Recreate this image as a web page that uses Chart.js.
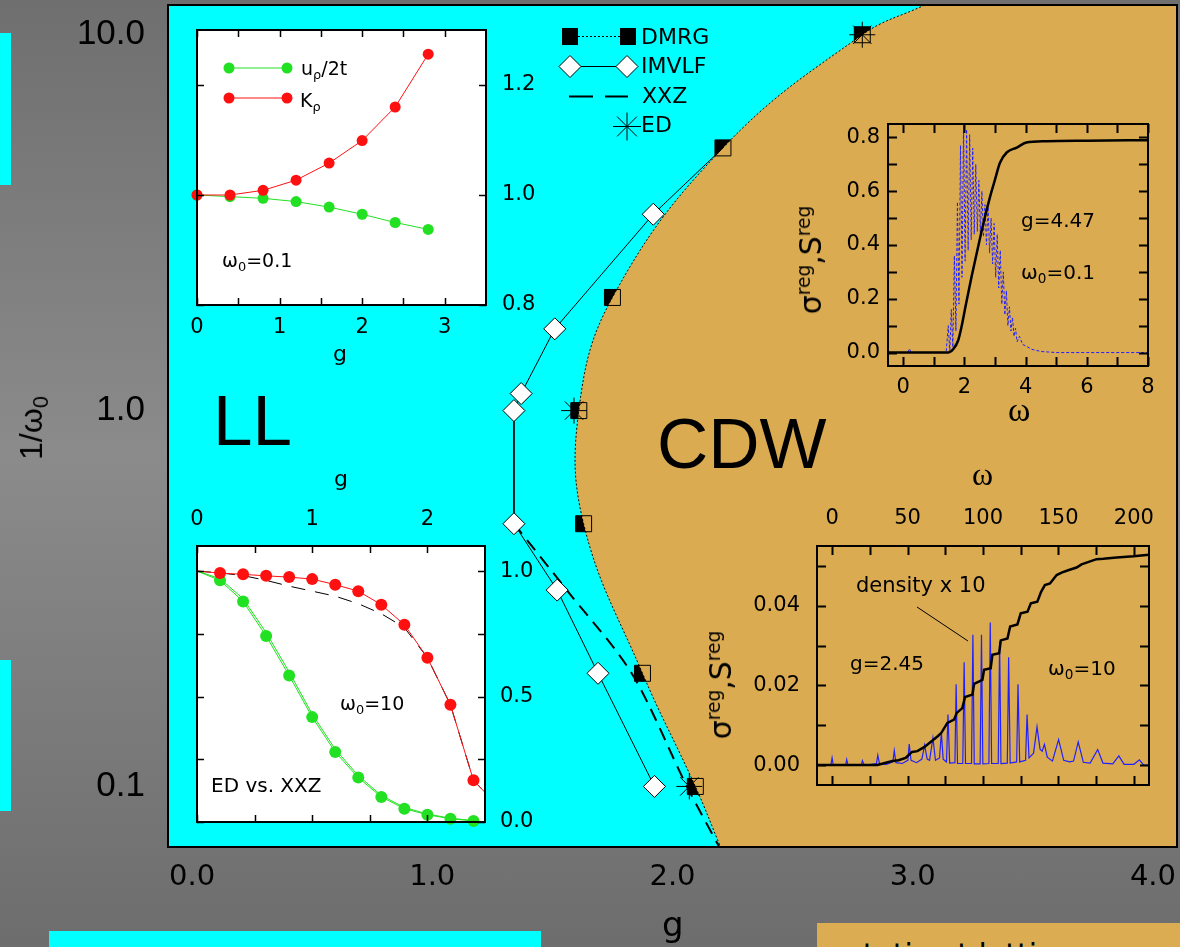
<!DOCTYPE html>
<html>
<head>
<meta charset="utf-8">
<title>Phase diagram</title>
<script src="https://cdn.jsdelivr.net/npm/chart.js@4.4.1/dist/chart.umd.min.js"></script>
<style>
  html, body { margin: 0; padding: 0; }
  body {
    width: 1180px; height: 947px; overflow: hidden; position: relative;
    background: linear-gradient(to bottom, #6f6f6f 0%, #8b8b8b 48%, #6d6d6d 100%);
    font-family: "DejaVu Sans", sans-serif;
  }
  canvas { position: absolute; }
  .blk { position: absolute; }
  .txt { position: absolute; white-space: nowrap; color: #000; }
  .txt sub { font-size: 68%; vertical-align: -0.28em; line-height: 0; }
  .txt sup { font-size: 62%; vertical-align: 0.6em; line-height: 0; }
  .rot { transform: translate(-50%, -50%) rotate(-90deg); }
</style>
</head>
<body>
<div class="blk" style="left:0;top:33px;width:11px;height:152px;background:#00ffff"></div>
<div class="blk" style="left:0;top:660px;width:11px;height:151px;background:#00ffff"></div>
<div class="blk" style="left:49px;top:931px;width:492px;height:16px;background:#00ffff"></div>
<div class="blk" style="left:817px;top:923px;width:363px;height:24px;background:#dcac52;overflow:hidden">
  <div class="txt" style="left:30px;top:17px;font:30px/1 'DejaVu Sans'">static at lattice</div>
</div>

<canvas id="mainChart" width="1180" height="947" style="left:0;top:0"></canvas>
<canvas id="insetTL" width="420" height="400" style="left:150px;top:0"></canvas>
<canvas id="insetBL" width="420" height="420" style="left:150px;top:470px"></canvas>
<canvas id="insetTR" width="400" height="330" style="left:780px;top:90px"></canvas>
<canvas id="insetBR" width="480" height="350" style="left:700px;top:470px"></canvas>

<!-- main plot texts -->
<div class="txt" style="left:213px;top:385px;font:71px/1 'Liberation Sans'">LL</div>
<div class="txt" style="left:657px;top:408px;font:71px/1 'Liberation Sans'">CDW</div>
<div class="txt" style="left:641px;top:26px;font:22px/1 'DejaVu Sans'">DMRG</div>
<div class="txt" style="left:641px;top:55px;font:22px/1 'DejaVu Sans'">IMVLF</div>
<div class="txt" style="left:642px;top:85px;font:22px/1 'DejaVu Sans'">XXZ</div>
<div class="txt" style="left:641px;top:114px;font:22px/1 'DejaVu Sans'">ED</div>
<div class="txt rot" style="left:31px;top:428px;font:32px/1 'Liberation Sans'">1/ω<sub>0</sub></div>
<div class="txt" style="left:662px;top:907px;font:34px/1 'DejaVu Sans'">g</div>

<!-- top-left inset texts -->
<div class="txt" style="left:301px;top:59px;font:19px/1 'DejaVu Sans'">u<sub>ρ</sub>/2t</div>
<div class="txt" style="left:300px;top:91px;font:19px/1 'DejaVu Sans'">K<sub>ρ</sub></div>
<div class="txt" style="left:222px;top:251px;font:19px/1 'DejaVu Sans'">ω<sub>0</sub>=0.1</div>
<div class="txt" style="left:333px;top:343px;font:22px/1 'DejaVu Sans'">g</div>

<!-- bottom-left inset texts -->
<div class="txt" style="left:334px;top:468px;font:22px/1 'DejaVu Sans'">g</div>
<div class="txt" style="left:340px;top:694px;font:19px/1 'DejaVu Sans'">ω<sub>0</sub>=10</div>
<div class="txt" style="left:211px;top:775px;font:20px/1 'DejaVu Sans'">ED vs. XXZ</div>

<!-- top-right inset texts -->
<div class="txt" style="left:1021px;top:210px;font:20px/1 'DejaVu Sans'">g=4.47</div>
<div class="txt" style="left:1021px;top:262px;font:20px/1 'DejaVu Sans'">ω<sub>0</sub>=0.1</div>
<div class="txt" style="left:1008px;top:393px;font:34px/1 'Liberation Serif'">ω</div>
<div class="txt rot" style="left:811px;top:260px;font:30px/1 'DejaVu Sans'">σ<sup>reg</sup>,S<sup>reg</sup></div>

<!-- bottom-right inset texts -->
<div class="txt" style="left:972px;top:458px;font:32px/1 'Liberation Serif'">ω</div>
<div class="txt" style="left:856px;top:575px;font:21px/1 'DejaVu Sans'">density x 10</div>
<div class="txt" style="left:850px;top:653px;font:20px/1 'DejaVu Sans'">g=2.45</div>
<div class="txt" style="left:1048px;top:658px;font:20px/1 'DejaVu Sans'">ω<sub>0</sub>=10</div>
<div class="txt rot" style="left:721px;top:685px;font:30px/1 'DejaVu Sans'">σ<sup>reg</sup>,S<sup>reg</sup></div>

<script>
(function () {
  "use strict";

  // Colors
  const cyan  = '#00ffff';
  const tan   = '#dbab52';
  const red   = '#ff1010';
  const green = '#22e022';
  const blue  = '#2020ff';

  // ---- main diagram: g vs 1/omega0 ----
  const xTicks = [0, 1, 2, 3, 4];
  const xTickLabels = ['0.0', '1.0', '2.0', '3.0', '4.0'];
  const yTicks = [0.1, 1, 10];
  const yTickLabels = ['0.1', '1.0', '10.0'];

  // DMRG phase boundary, first and last entry continue the line to the frame
  const dmrgG = [3.05, 2.79, 2.21, 1.75, 1.61, 1.63, 1.875, 2.095, 2.2];
  const dmrgW = [12, 10, 5, 2, 1, 0.5, 0.2, 0.1, 0.069];
  const imvlfG = [2.21, 1.92, 1.51, 1.37, 1.34, 1.34, 1.52, 1.69, 1.925];
  const imvlfW = [5, 3.33, 1.65, 1.11, 1.0, 0.5, 0.333, 0.2, 0.1];
  const xxzG = [1.34, 1.56, 1.83, 2.06, 2.2];
  const xxzW = [0.5, 0.333, 0.2, 0.1, 0.068];
  const edG = [2.79, 1.59, 2.07];
  const edW = [10, 1, 0.1];

  // ---- top-left inset: u_rho/2t and K_rho at omega0 = 0.1 ----
  const tlG = [0, 0.4, 0.8, 1.2, 1.6, 2.0, 2.4, 2.8];
  const tlU = [1.0, 0.997, 0.994, 0.988, 0.978, 0.965, 0.950, 0.9375];
  const tlK = [1.0, 1.0, 1.0085, 1.027, 1.058, 1.099, 1.16, 1.256];
  const tlXTicks = [0, 0.5, 1, 1.5, 2, 2.5, 3];
  const tlXLabels = ['0', '', '1', '', '2', '', '3'];
  const tlYTicks = [0.8, 1.0, 1.2];
  const tlYLabels = ['0.8', '1.0', '1.2'];

  // ---- bottom-left inset: ED vs. XXZ at omega0 = 10 ----
  const blG = [0, 0.2, 0.4, 0.6, 0.8, 1.0, 1.2, 1.4, 1.6, 1.8, 2.0, 2.2, 2.4, 2.6];
  const blRedED = [1.0, 0.992, 0.987, 0.981, 0.976, 0.968, 0.946, 0.920, 0.866, 0.786, 0.655, 0.467, 0.166, 0.07];
  const blRedXXZ = [1.0, 0.993, 0.982, 0.963, 0.94, 0.92, 0.9, 0.87, 0.83, 0.775, 0.655, 0.467, 0.166, 0.07];
  const blGreenED = [1.0, 0.963, 0.879, 0.741, 0.584, 0.418, 0.279, 0.177, 0.100, 0.053, 0.029, 0.013, 0.004];
  const blGreenXXZ = [1.0, 0.97, 0.89, 0.755, 0.598, 0.43, 0.29, 0.185, 0.106, 0.058, 0.032, 0.015, 0.006];
  const blXTicks = [0, 0.5, 1, 1.5, 2];
  const blXLabels = ['0', '', '1', '', '2'];
  const blYTicks = [0, 0.25, 0.5, 0.75, 1.0];
  const blYLabels = ['0.0', '', '0.5', '', '1.0'];

  // ---- top-right inset: g = 4.47, omega0 = 0.1 ----
  const trBlueW = [-0.5, 0.15, 0.2, 0.25, 1.40, 1.47, 1.52, 1.57, 1.62, 1.67, 1.72, 1.77, 1.82, 1.87, 1.92, 1.97,
    2.02, 2.07, 2.12, 2.17, 2.22, 2.27, 2.32, 2.37, 2.42, 2.47, 2.52, 2.57, 2.62, 2.67, 2.72, 2.77, 2.82, 2.87,
    2.92, 2.97, 3.02, 3.07, 3.12, 3.17, 3.22, 3.27, 3.32, 3.37, 3.42, 3.47, 3.52, 3.57, 3.62, 3.67, 3.72,
    3.80, 3.90, 4.00, 4.20, 4.50, 5.00, 6.00, 8.00];
  const trBlueS = [0, 0, 0.015, 0, 0, 0.10, 0.0, 0.16, 0.02, 0.36, 0.08, 0.56, 0.18, 0.77, 0.28, 0.85,
    0.34, 0.83, 0.38, 0.81, 0.42, 0.76, 0.44, 0.70, 0.45, 0.64, 0.44, 0.60, 0.43, 0.55, 0.40, 0.55, 0.37, 0.50,
    0.33, 0.48, 0.28, 0.44, 0.24, 0.38, 0.18, 0.30, 0.14, 0.23, 0.10, 0.17, 0.08, 0.13, 0.06, 0.09, 0.04,
    0.06, 0.03, 0.025, 0.012, 0.004, 0, 0, 0];
  const trSumW = [-0.5, 1.46, 1.63, 1.79, 1.90, 2.04, 2.23, 2.40, 2.62, 2.84, 3.00, 3.16, 3.38, 3.71, 4.02, 4.68, 6.0, 8.0];
  const trSumS = [0, 0, 0.0125, 0.044, 0.094, 0.175, 0.281, 0.369, 0.481, 0.581, 0.644, 0.706, 0.744, 0.7625, 0.781, 0.786, 0.788, 0.79];
  const trXTicks = [0, 1, 2, 3, 4, 5, 6, 7, 8];
  const trXLabels = ['0', '', '2', '', '4', '', '6', '', '8'];
  const trYTicks = [0, 0.1, 0.2, 0.3, 0.4, 0.5, 0.6, 0.7, 0.8];
  const trYLabels = ['0.0', '', '0.2', '', '0.4', '', '0.6', '', '0.8'];

  // ---- bottom-right inset: g = 2.45, omega0 = 10 ----
  const brBlueW = [-10, -0.8, 0, 0.8, 9, 9.7, 10.5, 19.3, 20.1, 21, 25, 29.4, 30.3, 31.4, 36, 40.3, 41.2, 42.3,
    46.5, 50.2, 51.1, 52.3, 56, 59.5, 61.3, 63, 64.6, 66.8, 68.5, 71.2, 72.4, 73.6, 75.8, 76.8, 77.9,
    81.4, 82.2, 83.1, 86.6, 87.5, 88.4, 92.4, 93.3, 94.2, 98.1, 99.0, 99.9, 103.9, 104.8, 105.7,
    110.1, 111.0, 111.9, 116.1, 117.0, 118.0, 122.3, 123.2, 124.3, 128.2, 129.2, 130.5, 133.5, 135.8, 137.8,
    139.2, 140.7, 142.6, 146, 150.1, 153.5, 157.5, 160, 163.1, 166.5, 171, 176, 179.5, 186, 190, 193.5,
    200, 203.6, 206.5, 210];
  const brBlueS = [0, 0, 0.0018, 0, 0, 0.0014, 0, 0, 0.0011, 0.0002, 0.0001, 0.0004, 0.0025, 0.0003, 0.0002,
    0.0008, 0.0036, 0.0006, 0.0004, 0.0012, 0.0053, 0.0012, 0.0006, 0.0015, 0.005, 0.0015, 0.0012, 0.0068,
    0.0012, 0.0018, 0.0082, 0.0015, 0.0008, 0.0127, 0.0005, 0.0006, 0.0203, 0.0004, 0.0004, 0.0258, 0.0004,
    0.0004, 0.0327, 0.0003, 0.0003, 0.0327, 0.0003, 0.0004, 0.0358, 0.0004, 0.0004, 0.031, 0.0004, 0.0005,
    0.0271, 0.0005, 0.0008, 0.0203, 0.0008, 0.0012, 0.0127, 0.0018, 0.003, 0.0096, 0.004, 0.0035, 0.0052,
    0.002, 0.001, 0.0064, 0.0012, 0.0008, 0.001, 0.0058, 0.0007, 0.0005, 0.0039, 0.0005, 0.0003, 0.0023,
    0.0002, 0.0002, 0.0013, 0, 0];
  const brSumW = [-10, 30, 40, 44, 48.7, 53, 56.5, 61, 65.3, 70.2, 72.4, 76.4, 80.8, 82.6, 86.3, 88.1, 93, 94.1,
    99.6, 100.7, 105.1, 106.2, 110.7, 111.8, 116.2, 118, 122.8, 125, 129.5, 131.7, 136, 138.5, 141, 144.4,
    148.8, 152.1, 156.4, 162, 165.3, 175.3, 179.7, 188.6, 199.7, 210];
  const brSumS = [0, 0, 0.001, 0.0012, 0.0018, 0.0033, 0.0035, 0.0045, 0.0058, 0.0073, 0.0081, 0.0106, 0.0114,
    0.0131, 0.0143, 0.0171, 0.0177, 0.0204, 0.0214, 0.0239, 0.0243, 0.0277, 0.0281, 0.0313, 0.0318, 0.0348,
    0.0353, 0.0381, 0.0385, 0.0406, 0.041, 0.0435, 0.0452, 0.0456, 0.0477, 0.0483, 0.0489, 0.0496, 0.0504,
    0.0517, 0.0518, 0.0521, 0.0524, 0.0528];
  const brXTicks = [0, 25, 50, 75, 100, 125, 150, 175, 200];
  const brXLabels = ['0', '', '50', '', '100', '', '150', '', '200'];
  const brYTicks = [0, 0.01, 0.02, 0.03, 0.04, 0.05];
  const brYLabels = ['0.00', '', '0.02', '', '0.04', ''];

  // ---- helpers ----
  const pts = (xs, ys) => ys.map((y, i) => ({x: xs[i], y: y}));
  const hideEnds = (r) => (c) => (c.dataIndex === 0 || c.dataIndex === c.dataset.data.length - 1) ? 0 : r;
  const hideFirst = (r) => (c) => c.dataIndex === 0 ? 0 : r;

  // scale with fixed box size and hand-picked ticks
  function axis(type, position, min, max, ticks, labels, font, pad, size) {
    return {
      type: type, position: position, min: min, max: max,
      grid: {display: false, drawTicks: false},
      border: {display: false},
      afterFit: function (s) {
        if (s.isHorizontal()) s.height = size; else s.width = size;
        s.paddingLeft = s.paddingRight = s.paddingTop = s.paddingBottom = 0;
      },
      afterBuildTicks: function (s) { s.ticks = ticks.map(v => ({value: v})); },
      ticks: {
        autoSkip: false, maxRotation: 0, minRotation: 0, padding: pad, color: '#000', font: font,
        callback: function (v, i) { return labels[i]; }
      }
    };
  }

  Chart.defaults.font.family = "'DejaVu Sans', sans-serif";
  Chart.defaults.color = '#000';

  // ---- main chart plugin: background, CDW region, frame, legend ----
  const mainDecor = {
    id: 'mainDecor',
    beforeDatasetsDraw(chart) {
      const {ctx, chartArea: a} = chart;
      ctx.save();
      ctx.fillStyle = cyan;
      ctx.fillRect(a.left, a.top, a.width, a.height);
      ctx.restore();
    },
    afterDatasetDraw(chart, args) {
      if (args.index !== 0) return;
      // CDW region: right of the DMRG boundary, painted over the solid squares
      const {ctx, chartArea: a} = chart;
      const meta = chart.getDatasetMeta(1);
      const line = meta.dataset;
      ctx.save();
      ctx.beginPath();
      ctx.rect(a.left, a.top, a.width, a.height);
      ctx.clip();
      ctx.beginPath();
      if (line && line.path && line.updateControlPoints) {
        line.updateControlPoints(a, 'x');
        line.path(ctx);
      } else {
        meta.data.forEach((p, i) => i ? ctx.lineTo(p.x, p.y) : ctx.moveTo(p.x, p.y));
      }
      ctx.lineTo(a.right + 5, a.bottom + 5);
      ctx.lineTo(a.right + 5, a.top - 5);
      ctx.closePath();
      ctx.fillStyle = tan;
      ctx.fill();
      ctx.restore();
    },
    afterDraw(chart) {
      const {ctx, chartArea: a} = chart;
      ctx.save();
      ctx.strokeStyle = '#000';
      ctx.lineWidth = 2;
      ctx.strokeRect(a.left, a.top, a.width, a.height);

      // legend symbols
      ctx.fillStyle = '#000';
      ctx.lineWidth = 1;
      ctx.setLineDash([2, 2]);
      ctx.beginPath(); ctx.moveTo(578, 36.5); ctx.lineTo(620, 36.5); ctx.stroke();
      ctx.setLineDash([]);
      ctx.fillRect(562, 28, 16, 17);
      ctx.fillRect(620, 28, 16, 17);

      ctx.beginPath(); ctx.moveTo(570, 66.5); ctx.lineTo(627, 66.5); ctx.stroke();
      [570, 627].forEach(function (x) {
        ctx.beginPath();
        ctx.moveTo(x - 11, 66.5); ctx.lineTo(x, 55.5); ctx.lineTo(x + 11, 66.5); ctx.lineTo(x, 77.5);
        ctx.closePath();
        ctx.fillStyle = '#fff'; ctx.fill(); ctx.stroke();
      });

      ctx.lineWidth = 2;
      ctx.beginPath(); ctx.moveTo(569, 96.5); ctx.lineTo(593, 96.5); ctx.moveTo(605, 96.5); ctx.lineTo(628, 96.5); ctx.stroke();

      ctx.lineWidth = 1;
      ctx.beginPath();
      const cx = 627, cy = 126.5, r = 14, d = r * Math.SQRT1_2;
      ctx.moveTo(cx - r, cy); ctx.lineTo(cx + r, cy);
      ctx.moveTo(cx, cy - r); ctx.lineTo(cx, cy + r);
      ctx.moveTo(cx - d, cy - d); ctx.lineTo(cx + d, cy + d);
      ctx.moveTo(cx - d, cy + d); ctx.lineTo(cx + d, cy - d);
      ctx.stroke();
      ctx.restore();
    }
  };

  new Chart(document.getElementById('mainChart'), {
    type: 'scatter',
    data: {
      datasets: [
        { // 0: DMRG solid squares, partly covered by the CDW region
          data: pts(dmrgG, dmrgW), showLine: false, pointStyle: 'rect', pointRadius: hideEnds(11.3),
          pointBackgroundColor: '#000', pointBorderColor: '#000', pointBorderWidth: 0, order: 10
        },
        { // 1: DMRG dotted boundary with open squares
          data: pts(dmrgG, dmrgW), showLine: true, borderColor: '#000', borderWidth: 1, borderDash: [2, 2],
          tension: 0.4, pointStyle: 'rect', pointRadius: hideEnds(11.3),
          pointBackgroundColor: 'rgba(0,0,0,0)', pointBorderColor: '#000', pointBorderWidth: 1, order: 4
        },
        { // 2: XXZ
          data: pts(xxzG, xxzW), showLine: true, borderColor: '#000', borderWidth: 2, borderDash: [13, 8],
          tension: 0.3, pointRadius: 0, order: 6
        },
        { // 3: IMVLF
          data: pts(imvlfG, imvlfW), showLine: true, borderColor: '#000', borderWidth: 1,
          pointStyle: 'rectRot', pointRadius: hideFirst(11), pointBackgroundColor: '#fff',
          pointBorderColor: '#000', pointBorderWidth: 1, order: 5
        },
        { // 4: ED
          data: pts(edG, edW), showLine: false, pointStyle: 'star', pointRadius: 13,
          pointBorderColor: '#000', pointBorderWidth: 1, order: 1
        }
      ]
    },
    options: {
      responsive: false,
      animation: false,
      events: [],
      layout: {autoPadding: false, padding: {left: 0, top: 5, right: 3, bottom: 0}},
      plugins: {legend: {display: false}, tooltip: {enabled: false}},
      scales: {
        x: axis('linear', 'bottom', -0.1, 4.1, xTicks, xTickLabels, {family: "'DejaVu Sans'", size: 29}, 13, 100),
        y: axis('logarithmic', 'left', 0.069, 12, yTicks, yTickLabels, {family: "'Liberation Sans'", size: 35}, 23, 168)
      }
    },
    plugins: [mainDecor]
  });

  // ---- insets ----
  const insetFrame = {
    id: 'insetFrame',
    beforeDatasetsDraw(chart, args, o) {
      if (!o.bg) return;
      const {ctx, chartArea: a} = chart;
      ctx.save();
      ctx.fillStyle = o.bg;
      ctx.fillRect(a.left, a.top, a.width, a.height);
      ctx.restore();
    },
    afterDatasetsDraw(chart, args, o) {
      const {ctx, chartArea: a, scales} = chart;
      const len = o.tick;
      ctx.save();
      ctx.strokeStyle = '#000';
      ctx.lineWidth = o.lw;
      ctx.beginPath();
      scales.x.ticks.forEach(function (t) {
        const p = Math.round(scales.x.getPixelForValue(t.value)) + 0.5;
        ctx.moveTo(p, a.bottom); ctx.lineTo(p, a.bottom - len);
        ctx.moveTo(p, a.top); ctx.lineTo(p, a.top + len);
      });
      scales.y.ticks.forEach(function (t) {
        const p = Math.round(scales.y.getPixelForValue(t.value)) + 0.5;
        ctx.moveTo(a.left, p); ctx.lineTo(a.left + len, p);
        ctx.moveTo(a.right, p); ctx.lineTo(a.right - len, p);
      });
      ctx.stroke();
      ctx.lineWidth = 2;
      ctx.strokeRect(a.left, a.top, a.width, a.height);
      ctx.restore();
    }
  };

  // area = plot box in page pixels; sizes = boxes of the x and y scales
  function insetChart(id, area, xAx, yAx, sizes, datasets, frame, extra) {
    const cv = document.getElementById(id);
    const ox = cv.offsetLeft, oy = cv.offsetTop;
    const pad = {left: area[0] - ox, top: area[1] - oy, right: ox + cv.width - area[2], bottom: oy + cv.height - area[3]};
    pad[xAx.position] -= sizes[0];
    pad[yAx.position] -= sizes[1];
    return new Chart(cv, {
      type: 'scatter',
      data: {datasets: datasets},
      options: {
        responsive: false,
        animation: false,
        events: [],
        layout: {autoPadding: false, padding: pad},
        plugins: {legend: {display: false}, tooltip: {enabled: false}, insetFrame: frame},
        scales: {x: xAx, y: yAx}
      },
      plugins: [insetFrame].concat(extra || [])
    });
  }

  const tickFont = {family: "'DejaVu Sans'", size: 21};

  // top-left inset legend (page coords shifted to the canvas)
  const tlLegend = {
    id: 'tlLegend',
    afterDraw(chart) {
      const ctx = chart.ctx;
      ctx.save();
      [[green, 68], [red, 98]].forEach(function (it) {
        ctx.strokeStyle = it[0]; ctx.fillStyle = it[0]; ctx.lineWidth = 1;
        ctx.beginPath(); ctx.moveTo(79, it[1]); ctx.lineTo(137, it[1]); ctx.stroke();
        [79, 137].forEach(function (x) { ctx.beginPath(); ctx.arc(x, it[1], 5.5, 0, Math.PI * 2); ctx.fill(); });
      });
      ctx.restore();
    }
  };

  insetChart('insetTL', [197, 30, 486, 305],
    axis('linear', 'bottom', 0, 3.5, tlXTicks, tlXLabels, tickFont, 10, 45),
    axis('linear', 'right', 0.8, 1.3, tlYTicks, tlYLabels, tickFont, 16, 60),
    [45, 60],
    [
      {data: pts(tlG, tlU), showLine: true, borderColor: green, borderWidth: 1, pointRadius: 5.5,
        pointBackgroundColor: green, pointBorderWidth: 0, clip: false, order: 2},
      {data: pts(tlG, tlK), showLine: true, borderColor: red, borderWidth: 1, pointRadius: 5.5,
        pointBackgroundColor: red, pointBorderWidth: 0, clip: false, order: 1}
    ],
    {bg: '#fff', tick: 7, lw: 1.5}, [tlLegend]);

  const clipRight = {left: false, top: false, right: 0, bottom: false};
  insetChart('insetBL', [197, 546, 485, 822],
    axis('linear', 'top', 0, 2.5, blXTicks, blXLabels, tickFont, 14, 45),
    axis('linear', 'right', 0, 1.1, blYTicks, blYLabels, tickFont, 15, 60),
    [45, 60],
    [
      {data: pts(blG, blGreenXXZ), showLine: true, borderColor: green, borderWidth: 1, pointRadius: 0, clip: clipRight, order: 4},
      {data: pts(blG, blGreenED), showLine: true, borderColor: green, borderWidth: 1, pointRadius: hideFirst(6),
        pointBackgroundColor: green, pointBorderWidth: 0, clip: clipRight, order: 3},
      {data: pts(blG, blRedXXZ), showLine: true, borderColor: '#000', borderWidth: 1, borderDash: [14, 10],
        pointRadius: 0, clip: clipRight, order: 2},
      {data: pts(blG, blRedED), showLine: true, borderColor: red, borderWidth: 1, pointRadius: hideEnds(6),
        pointBackgroundColor: red, pointBorderWidth: 0, clip: clipRight, order: 1}
    ],
    {bg: '#fff', tick: 7, lw: 1.5});

  insetChart('insetTR', [888, 124, 1148, 366],
    axis('linear', 'bottom', -0.5, 8, trXTicks, trXLabels, tickFont, 9, 40),
    axis('linear', 'left', -0.05, 0.85, trYTicks, trYLabels, tickFont, 8, 70),
    [40, 70],
    [
      {data: pts(trBlueW, trBlueS), showLine: true, borderColor: blue, borderWidth: 1, borderDash: [3, 2],
        pointRadius: 0, order: 2},
      {data: pts(trSumW, trSumS), showLine: true, borderColor: '#000', borderWidth: 2.5,
        cubicInterpolationMode: 'monotone', pointRadius: 0, order: 1}
    ],
    {bg: null, tick: 9, lw: 2});

  // pointer from "density x 10" to the spikes
  const brPointer = {
    id: 'brPointer',
    afterDraw(chart) {
      const ctx = chart.ctx;
      ctx.save();
      ctx.strokeStyle = '#000';
      ctx.lineWidth = 1;
      ctx.beginPath(); ctx.moveTo(917 - 700, 607 - 470); ctx.lineTo(968 - 700, 641 - 470); ctx.stroke();
      ctx.restore();
    }
  };

  insetChart('insetBR', [817, 546, 1149, 785],
    axis('linear', 'top', -10, 210, brXTicks, brXLabels, tickFont, 15, 45),
    axis('linear', 'left', -0.005, 0.055, brYTicks, brYLabels, tickFont, 17, 80),
    [45, 80],
    [
      {data: pts(brBlueW, brBlueS), showLine: true, borderColor: blue, borderWidth: 1.2, pointRadius: 0, order: 2},
      {data: pts(brSumW, brSumS), showLine: true, borderColor: '#000', borderWidth: 2.5, pointRadius: 0, order: 1}
    ],
    {bg: null, tick: 9, lw: 2}, [brPointer]);

})();
</script>
</body>
</html>
